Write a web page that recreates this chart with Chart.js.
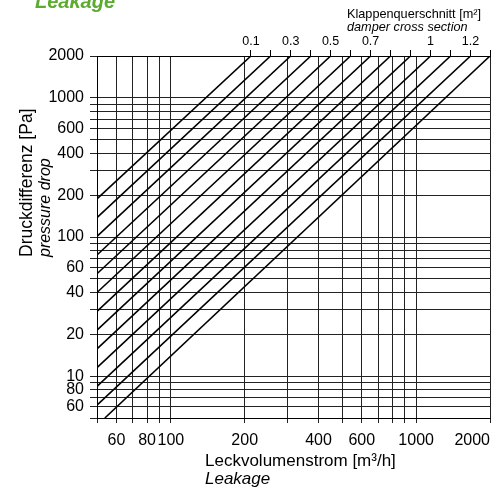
<!DOCTYPE html>
<html>
<head>
<meta charset="utf-8">
<script src="https://cdn.jsdelivr.net/npm/chart.js@4.4.1/dist/chart.umd.min.js"></script>
<style>
  body { margin: 0; background: #fff; }
</style>
</head>
<body>
<canvas id="leakChart" width="504" height="488"></canvas>
<script>
// damper lines: top end (at 2000 Pa) and lower end where each one leaves the grid
const sectionLabels = ['0.1', '', '0.3', '', '0.5', '', '0.7', '', '', '1', '', '1.2', ''];
const topFlow = [212, 255, 308, 372, 448, 540, 652, 786, 948, 1145, 1381, 1666, 2000];
const topPressure = [2000, 2000, 2000, 2000, 2000, 2000, 2000, 2000, 2000, 2000, 2000, 2000, 2000];
const lowFlow = [50, 50, 50, 50, 50, 50, 50, 50, 50, 50, 50, 50, 53.8];
const lowPressure = [188, 138, 101, 74.2, 54.4, 39.9, 29.2, 21.4, 15.7, 11.5, 8.45, 6.19, 5];

// grid values and the labels printed next to them
const xGrid = [50, 60, 70, 80, 90, 100, 200, 300, 400, 500, 600, 700, 800, 900, 1000, 2000];
const xLabels = ['', '60', '', '80', '', '100', '200', '', '400', '', '600', '', '', '', '1000', '2000'];
const yGrid = [5, 6, 7, 8, 9, 10, 20, 30, 40, 50, 60, 70, 80, 90, 100, 200, 300, 400, 500, 600, 700, 800, 900, 1000, 2000];
const yLabels = ['', '60', '', '80', '', '10', '20', '', '40', '', '60', '', '', '', '100', '200', '', '400', '', '600', '', '', '', '1000', '2000'];

Chart.defaults.font.family = '"Liberation Sans", Arial, sans-serif';
Chart.defaults.color = '#000';

const datasets = topFlow.map((q, i) => ({
    data: [
        { x: lowFlow[i], y: lowPressure[i] },
        { x: q, y: topPressure[i] }
    ],
    showLine: true,
    borderColor: '#000',
    borderWidth: 1.6,
    pointRadius: 0,
    fill: false
}));

const textPlugin = {
    id: 'texts',
    afterDraw(chart) {
        const ctx = chart.ctx;
        ctx.save();
        ctx.fillStyle = '#5aab2e';
        ctx.font = 'italic bold 20px "Liberation Sans", Arial, sans-serif';
        ctx.textAlign = 'left';
        ctx.textBaseline = 'alphabetic';
        ctx.fillText('Leakage', 35, 8);

        ctx.fillStyle = '#000';
        ctx.textBaseline = 'middle';
        ctx.font = '12.7px "Liberation Sans", Arial, sans-serif';
        ctx.fillText('Klappenquerschnitt [m\u00b2]', 347, 14);
        ctx.font = 'italic 12.7px "Liberation Sans", Arial, sans-serif';
        ctx.fillText('damper cross section', 347, 27);

        ctx.font = '17px "Liberation Sans", Arial, sans-serif';
        ctx.fillText('Leckvolumenstrom [m\u00b3/h]', 205, 461);
        ctx.font = 'italic 17px "Liberation Sans", Arial, sans-serif';
        ctx.fillText('Leakage', 205, 479);

        ctx.translate(27, 257);
        ctx.rotate(-Math.PI / 2);
        ctx.font = '17.5px "Liberation Sans", Arial, sans-serif';
        ctx.fillText('Druckdifferenz [Pa]', 0, 0);
        ctx.font = 'italic 16px "Liberation Sans", Arial, sans-serif';
        ctx.fillText('pressure drop', 0, 19);
        ctx.restore();
    }
};

const leakChart = new Chart(document.getElementById('leakChart'), {
    type: 'scatter',
    data: { datasets: datasets },
    options: {
        responsive: false,
        animation: false,
        layout: { padding: { left: 0, right: 14, top: 0, bottom: 0 } },
        plugins: { legend: { display: false }, tooltip: { enabled: false } },
        scales: {
            x: {
                type: 'logarithmic',
                position: 'bottom',
                min: 50,
                max: 2000,
                bounds: 'data',
                afterBuildTicks: (scale) => { scale.ticks = xGrid.map(v => ({ value: v })); },
                afterFit: (scale) => { scale.height = 70; },
                grid: { color: '#222', lineWidth: 1, tickLength: 5, tickColor: '#222' },
                border: { color: '#000', width: 1 },
                ticks: {
                    autoSkip: false,
                    maxRotation: 0,
                    align: 'inner',
                    padding: 8,
                    font: { size: 16 },
                    callback: (v, i) => xLabels[i]
                }
            },
            xTop: {
                type: 'logarithmic',
                position: 'top',
                axis: 'x',
                min: 50,
                max: 2000,
                bounds: 'data',
                afterBuildTicks: (scale) => { scale.ticks = topFlow.map(v => ({ value: v })); },
                afterFit: (scale) => { scale.height = 56; },
                grid: { drawOnChartArea: false, tickLength: 6, color: '#000' },
                border: { color: '#000', width: 1 },
                ticks: {
                    autoSkip: false,
                    maxRotation: 0,
                    padding: 1,
                    font: { size: 12.5 },
                    callback: (v, i) => sectionLabels[i]
                }
            },
            y: {
                type: 'logarithmic',
                min: 5,
                max: 2000,
                bounds: 'data',
                afterBuildTicks: (scale) => { scale.ticks = yGrid.map(v => ({ value: v })); },
                afterFit: (scale) => { scale.width = 97; },
                grid: { color: '#222', lineWidth: 1, tickLength: 7, tickColor: '#222' },
                border: { color: '#000', width: 1 },
                ticks: {
                    autoSkip: false,
                    padding: 6,
                    font: { size: 16 },
                    callback: (v, i) => yLabels[i]
                }
            }
        }
    },
    plugins: [textPlugin]
});
</script>
</body>
</html>
